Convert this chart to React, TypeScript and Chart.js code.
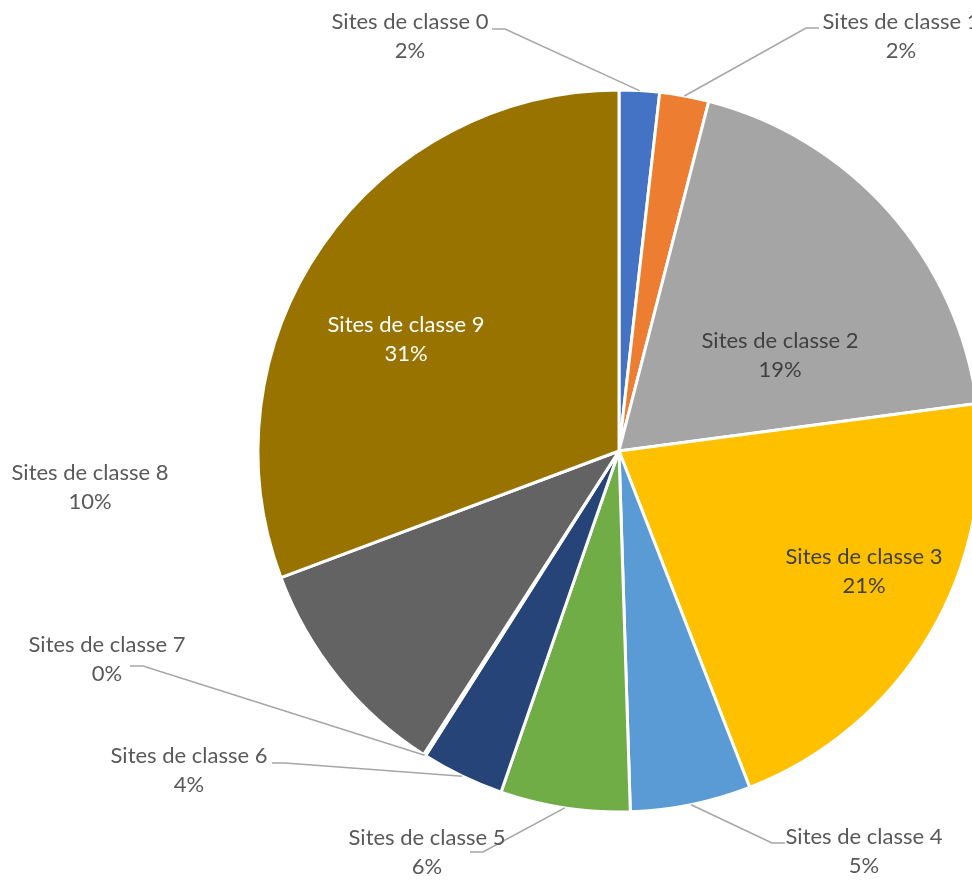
import React, { useEffect, useRef } from "react";
import { Chart, registerables } from "chart.js";

Chart.register(...registerables);

const CATEGORIES = [
  "Sites de classe 0",
  "Sites de classe 1",
  "Sites de classe 2",
  "Sites de classe 3",
  "Sites de classe 4",
  "Sites de classe 5",
  "Sites de classe 6",
  "Sites de classe 7",
  "Sites de classe 8",
  "Sites de classe 9",
];

const VALUES = [1.8, 2.2, 18.9, 21.2, 5.4, 5.8, 3.7, 0.1, 10.2, 30.7];

const COLORS = [
  "#4472C4",
  "#ED7D31",
  "#A5A5A5",
  "#FFC000",
  "#5B9BD5",
  "#70AD47",
  "#264478",
  "#9E480E",
  "#636363",
  "#997300",
];

// Label layout: offset of the label block centre from the pie centre,
// text colour, and optional leader anchor (relative to label centre) with
// the direction of the short horizontal segment.
type LabelLayout = {
  dx: number;
  dy: number;
  color: string;
  anchor?: { ax: number; ay: number; dir: number };
};

const LABEL_LAYOUT: LabelLayout[] = [
  { dx: -209, dy: -414.5, color: "#595959", anchor: { ax: 82, ay: -7.5, dir: 1 } },
  { dx: 282, dy: -414.5, color: "#595959", anchor: { ax: -82, ay: -8.5, dir: -1 } },
  { dx: 161, dy: -95.5, color: "#404040" },
  { dx: 245, dy: 120.5, color: "#404040" },
  { dx: 245, dy: 400.5, color: "#595959", anchor: { ax: -79, ay: -8.5, dir: -1 } },
  { dx: -192, dy: 401.5, color: "#595959", anchor: { ax: 43, ay: -0.5, dir: 1 } },
  { dx: -430, dy: 319.5, color: "#595959", anchor: { ax: 83, ay: -7.5, dir: 1 } },
  { dx: -512, dy: 208.5, color: "#595959", anchor: { ax: 23, ay: 6.5, dir: 1 } },
  { dx: -529, dy: 36.5, color: "#595959" },
  { dx: -213, dy: -111.5, color: "#FFFFFF" },
];

const FONT = "22px Lato, 'Open Sans', sans-serif";
const LINE_GAP = 29;

const labelPlugin = {
  id: "pieLabels",
  afterDatasetsDraw(chart: any) {
    const ctx = chart.ctx as CanvasRenderingContext2D;
    const meta = chart.getDatasetMeta(0);
    const data = chart.data.datasets[0].data as number[];
    const total = data.reduce((a, b) => a + b, 0);
    ctx.save();
    ctx.font = FONT;
    ctx.textAlign = "center";
    ctx.textBaseline = "middle";
    meta.data.forEach((arc: any, i: number) => {
      const p = arc.getProps(["x", "y", "startAngle", "endAngle", "outerRadius"], true);
      const lay = LABEL_LAYOUT[i];
      const cx = p.x + lay.dx;
      const cy = p.y + lay.dy;
      if (lay.anchor) {
        const mid = (p.startAngle + p.endAngle) / 2;
        const ex = p.x + Math.cos(mid) * p.outerRadius;
        const ey = p.y + Math.sin(mid) * p.outerRadius;
        const sx = cx + lay.anchor.ax;
        const sy = cy + lay.anchor.ay;
        ctx.strokeStyle = "#A6A6A6";
        ctx.lineWidth = 1.5;
        ctx.beginPath();
        ctx.moveTo(sx, sy);
        ctx.lineTo(sx + 13 * lay.anchor.dir, sy);
        ctx.lineTo(ex, ey);
        ctx.stroke();
      }
      ctx.fillStyle = lay.color;
      const pct = Math.round((data[i] / total) * 100) + "%";
      ctx.fillText(String(chart.data.labels[i]), cx, cy - LINE_GAP / 2);
      ctx.fillText(pct, cx, cy + LINE_GAP / 2);
    });
    ctx.restore();
  },
};

export default function App() {
  const ref = useRef<HTMLCanvasElement | null>(null);
  useEffect(() => {
    if (!ref.current) return;
    const chart = new Chart(ref.current, {
      type: "pie",
      data: {
        labels: CATEGORIES,
        datasets: [
          {
            data: VALUES,
            backgroundColor: COLORS,
            borderColor: "#FFFFFF",
            borderWidth: 3,
            clip: false,
            radius: 361,
          } as any,
        ],
      },
      options: {
        responsive: false,
        animation: false,
        layout: { padding: { left: 258, right: 20, top: 90, bottom: 68 } },
        plugins: {
          legend: { display: false },
          tooltip: { enabled: false },
        },
      },
      plugins: [labelPlugin],
    });
    return () => chart.destroy();
  }, []);
  return (
    <div
      style={{
        position: "fixed",
        left: 0,
        top: 0,
        width: 972,
        height: 880,
        overflow: "hidden",
        background: "#FFFFFF",
      }}
    >
      <canvas ref={ref} width={1000} height={880} style={{ display: "block", width: 1000, height: 880 }} />
    </div>
  );
}
